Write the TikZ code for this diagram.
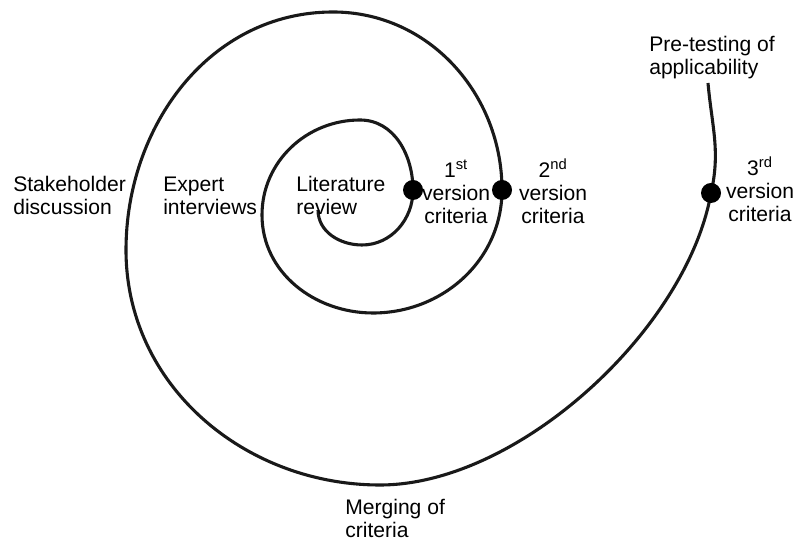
\documentclass[tikz,border=0pt]{standalone}
\usepackage{fontspec}
\setmainfont{Liberation Sans}
\usetikzlibrary{positioning}

\begin{document}
\begin{tikzpicture}[x=0.025cm,y=0.025cm]
  \tikzstyle{tnode} = [inner sep=0pt, align=left, font=\fontsize{15}{16.7}\selectfont]
  \tikzstyle{vnode} = [inner sep=0pt, align=center, font=\fontsize{15}{16.7}\selectfont]
  \tikzstyle{pnode} = [circle, fill=black, minimum size=0.5cm, inner sep=0pt]
  \tikzstyle{spiral} = [line width=2.2pt, black!90]
  \useasboundingbox (0,0) rectangle (795,543);

  % turning points of the spiral
  \coordinate (s0) at (318,333);
  \coordinate (b1) at (362,298);
  \coordinate (r1) at (413,353);
  \coordinate (t1) at (360,423);
  \coordinate (l1) at (262,328);
  \coordinate (b2) at (373,230);
  \coordinate (r2) at (502,353);
  \coordinate (t2) at (333,531);
  \coordinate (l2) at (126,293);
  \coordinate (b3) at (380,58);
  \coordinate (r3) at (711,350);
  \coordinate (e) at (708,460);

  \draw[spiral] (s0) to[out=270,in=180] (b1) to[out=0,in=270] (r1)
    to[out=90,in=0] (t1) to[out=180,in=90] (l1) to[out=270,in=180] (b2)
    to[out=0,in=270] (r2) to[out=90,in=0] (t2) to[out=180,in=90] (l2)
    to[out=270,in=180] (b3) to[out=0,in=260,looseness=0.8] (r3)
    to[out=77,in=275] (e);

  \node[pnode] (v1) at (r1) {};
  \node[pnode] (v2) at (r2) {};
  \node[pnode] (v3) at (r3) {};

  % base anchor sits on the last line
  \node[tnode, anchor=base west] (stake) at (13,328) {Stakeholder\\discussion};
  \node[tnode, anchor=base west] (expert) at (163,328) {Expert\\interviews};
  \node[tnode, anchor=base west] (lit) at (296,328) {Literature\\review};
  \node[tnode, anchor=base west] (pre) at (649,468) {Pre-testing of\\applicability};
  \node[tnode, anchor=base west] (merge) at (345,5) {Merging of\\criteria};

  \node[vnode, anchor=base] (c1) at (456,319) {1\textsuperscript{st}\\version\\criteria};
  \node[vnode, anchor=base] (c2) at (553,319) {2\textsuperscript{nd}\\version\\criteria};
  \node[vnode, anchor=base] (c3) at (760,321) {3\textsuperscript{rd}\\version\\criteria};
\end{tikzpicture}
\end{document}
